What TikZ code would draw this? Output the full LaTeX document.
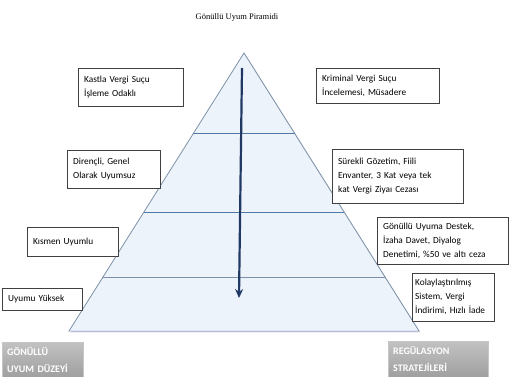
\documentclass[tikz,border=0pt]{standalone}
\usepackage{fontspec}
\setmainfont{Liberation Serif}
\newfontfamily\boxfont{Carlito}
\usepackage{tikz}
\usetikzlibrary{arrows.meta,positioning,calc}
\usepackage{xcolor}
\definecolor{pyrfill}{HTML}{EDF3FB}
\definecolor{pyredge}{HTML}{7D91A8}
\definecolor{pyrline}{HTML}{4F7AA6}
\definecolor{navy}{HTML}{1F3864}

\begin{document}
\begin{tikzpicture}[
    x=1pt,y=-1pt,
    box/.style={draw=black!75,fill=white,anchor=north west,align=left,inner xsep=6pt,inner ysep=3pt,font=\boxfont\fontsize{9.3}{14}\selectfont},
    tag/.style={top color=gray!48,bottom color=gray!75,draw=gray!45,anchor=north west,align=left,inner xsep=5pt,text=white,font=\boxfont\bfseries\fontsize{10}{17}\selectfont},
    level/.style={color=pyrline,line width=0.9pt},
    arrow/.style={-{Stealth[length=9pt,width=8pt]},line width=2.2pt,color=navy},
]
\useasboundingbox (0,0) rectangle (515,377);
\node[font=\fontsize{8.5}{10}\selectfont](title)at(237,17){Gönüllü Uyum Piramidi};
% pyramid
\coordinate(apex)at(244,53);
\coordinate(bl)at(69,331);
\coordinate(br)at(419,331);
\fill[pyredge!35](apex)++(1.5,1.5)--($(bl)+(1.5,1.5)$)--($(br)+(1.5,1.5)$)--cycle;
\filldraw[fill=pyrfill,draw=pyredge,line width=0.8pt](apex)--(bl)--(br)--cycle;
\draw[level]($(apex)!0.291!(bl)$)--($(apex)!0.291!(br)$);
\draw[level]($(apex)!0.572!(bl)$)--($(apex)!0.572!(br)$);
\draw[level,color=pyredge]($(apex)!0.809!(bl)$)--($(apex)!0.809!(br)$);
\draw[color=blue!12,line width=1pt]($(bl)+(1,0)$)--($(br)+(-1,0)$);
\coordinate(top)at(242,68);
\coordinate(bot)at(239,298);
\draw[arrow](top)--(bot);
% left side
\node[box,text width=93pt,minimum height=38pt](K1)at(78,68){Kastla Vergi Suçu\\İşleme Odaklı};
\node[box,text width=81pt,minimum height=38pt](K2)at(67,150){Dirençli, Genel\\Olarak Uyumsuz};
\node[box,text width=79pt,minimum height=29pt](K3)at(27,227){Kısmen Uyumlu};
\node[box,text width=68pt,minimum height=22pt](K4)at(2,288){Uyumu Yüksek};
% right side
\node[box,text width=111pt,minimum height=35pt](S1)at(316,68){Kriminal Vergi Suçu\\İncelemesi, Müsadere};
\node[box,text width=119pt,minimum height=54pt](S2)at(332,149){Sürekli Gözetim, Fiili\\Envanter, 3 Kat veya tek\\kat Vergi Ziyaı Cezası};
\node[box,text width=119pt,minimum height=47pt](S3)at(377,217){Gönüllü Uyuma Destek,\\İzaha Davet, Diyalog\\Denetimi, \%50 ve altı ceza};
\node[box,inner xsep=3pt,text width=76pt,minimum height=48pt](S4)at(412,273){Kolaylaştırılmış\\Sistem, Vergi\\İndirimi, Hızlı İade};
% tags
\node[tag,text width=71pt,minimum height=35pt](T1)at(2,342){GÖNÜLLÜ\\UYUM DÜZEYİ};
\node[tag,text width=90pt,minimum height=36pt](T2)at(388,341){REGÜLASYON\\STRATEJİLERİ};
\end{tikzpicture}
\end{document}
